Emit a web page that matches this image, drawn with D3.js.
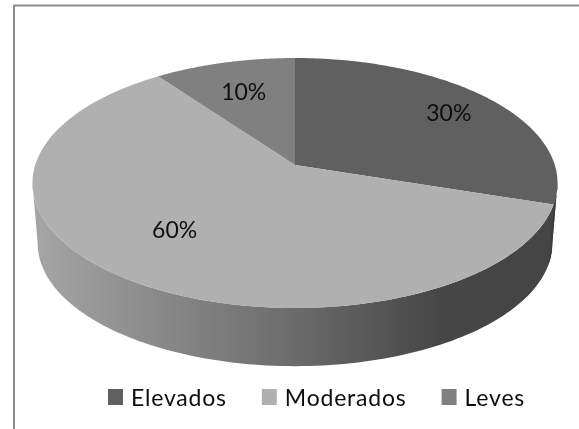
<!DOCTYPE html>
<html lang="es">
<head>
  <meta charset="UTF-8">
  <title>Elevados, Moderados, Leves</title>
  <script src="https://d3js.org/d3.v7.min.js"></script>
  <style>
    body { margin: 0; background: #fff; overflow: hidden; }
    svg { display: block; }
    text { font-family: Lato, "Open Sans", sans-serif; fill: #111; }
  </style>
</head>
<body>
<svg width="579" height="429"></svg>
<script>
const categories = ['Elevados', 'Moderados', 'Leves'];
const shares = [30, 60, 10];
const shareLabels = ['30%', '60%', '10%'];
const topColors = ['#606060', '#b0b0b0', '#808080'];

const svg = d3.select('svg');

// frame, cut off by the right and bottom of the picture
svg.append('path')
  .attr('d', 'M14 429V5.5H579')
  .attr('fill', 'none')
  .attr('stroke', '#8c8c8c')
  .attr('stroke-width', 2);

// the disc is a circle seen in perspective
const cx = 295, cy = 165, depth = 61, tilt = 0.144;
const scaleX = 259.8, scaleY = 122.4, bottomShrink = 0.98;

function project(angle, r, drop, shrink) {
  const x = Math.sin(angle) * r;
  const y = -Math.cos(angle) * r;
  const w = 1 - tilt * y;
  return [cx + shrink * scaleX * x / w, cy + drop + shrink * scaleY * y / w];
}
const line = d3.line();
const arcPoints = (a0, a1, drop, shrink) =>
  d3.range(0, 121).map(i => project(a0 + (a1 - a0) * i / 120, 1, drop, shrink));

const slices = d3.pie().sort(null).value(d => d)(shares);

const defs = svg.append('defs');
// the source picture is a slightly soft scan
defs.append('filter').attr('id', 'soft')
  .append('feGaussianBlur').attr('stdDeviation', 0.45);

// side wall, only the part facing the viewer
const wallGrad = defs.append('linearGradient')
  .attr('id', 'wall')
  .attr('gradientUnits', 'userSpaceOnUse')
  .attr('x1', 33).attr('x2', 557).attr('y1', 0).attr('y2', 0);
[[0, '#a6a6a6'], [0.2, '#8e8e8e'], [0.5, '#6b6b6b'], [0.78, '#464646'], [1, '#444444']]
  .forEach(s => wallGrad.append('stop').attr('offset', s[0]).attr('stop-color', s[1]));

const chart = svg.append('g').attr('filter', 'url(#soft)');

const rad = d3.scaleLinear().domain([0, 360]).range([0, 2 * Math.PI]);
const wallStart = Math.acos(-tilt);
const wallEnd = 2 * Math.PI - wallStart;
const wallPath = (a0, a1) =>
  line(arcPoints(a0, a1, 0, 1).concat(arcPoints(a1, a0, depth, bottomShrink))) + 'Z';

chart.append('path')
  .attr('d', wallPath(wallStart, wallEnd))
  .attr('fill', 'url(#wall)');
chart.append('path')
  .attr('d', wallPath(wallStart, slices[0].endAngle))
  .attr('fill', '#3e3e3e');

// top face
chart.append('g').selectAll('path')
  .data(slices)
  .join('path')
  .attr('d', d => line([[cx, cy]].concat(arcPoints(d.startAngle, d.endAngle, 0, 1))) + 'Z')
  .attr('fill', (d, i) => topColors[i]);

// percent labels
const labelRadius = [0.78, 0.65, 0.7];
const labelTurn = [0, 5.5, 0];
chart.append('g').selectAll('text')
  .data(slices)
  .join('text')
  .attr('text-anchor', 'middle')
  .attr('dominant-baseline', 'central')
  .attr('font-size', 23)
  .attr('x', (d, i) => project((d.startAngle + d.endAngle) / 2 + rad(labelTurn[i]), labelRadius[i], 0, 1)[0])
  .attr('y', (d, i) => project((d.startAngle + d.endAngle) / 2 + rad(labelTurn[i]), labelRadius[i], 0, 1)[1])
  .text((d, i) => shareLabels[i]);

// legend, laid out left to right
let legendX = 108;
const legendY = 397;
categories.forEach((name, i) => {
  chart.append('rect')
    .attr('x', legendX).attr('y', legendY - 8)
    .attr('width', 15).attr('height', 16)
    .attr('fill', topColors[i]);
  const label = chart.append('text')
    .attr('x', legendX + 23).attr('y', legendY)
    .attr('dominant-baseline', 'central')
    .attr('font-size', 23)
    .attr('letter-spacing', 0.8)
    .text(name);
  legendX += 23 + label.node().getComputedTextLength() + 35;
});
</script>
</body>
</html>
